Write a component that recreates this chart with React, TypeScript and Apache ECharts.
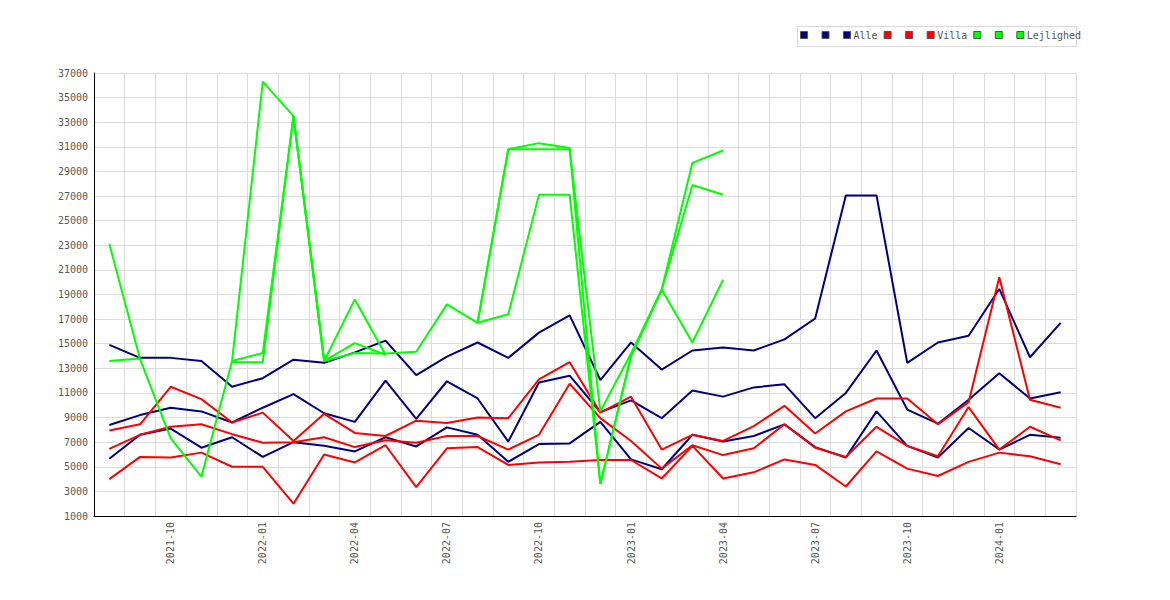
import React, { useEffect, useRef } from "react";
import * as echarts from "echarts";

const months = [
  "2021-08", "2021-09", "2021-10", "2021-11", "2021-12",
  "2022-01", "2022-02", "2022-03", "2022-04", "2022-05", "2022-06", "2022-07",
  "2022-08", "2022-09", "2022-10", "2022-11", "2022-12",
  "2023-01", "2023-02", "2023-03", "2023-04", "2023-05", "2023-06", "2023-07",
  "2023-08", "2023-09", "2023-10", "2023-11", "2023-12",
  "2024-01", "2024-02", "2024-03",
];

const alle1 = [14900, 13850, 13850, 13600, 11500, 12200, 13700, 13450, 14300, 15250, 12450, 13950, 15100, 13850, 15900, 17300, 12050, 15100, 12900, 14450, 14700, 14450, 15350, 17050, 27050, 27050, 13450, 15100, 15650, 19450, 13900, 16700];
const alle2 = [8400, 9200, 9800, 9500, 8600, 9800, 10900, 9350, 8650, 12000, 8900, 11950, 10550, 7050, 11850, 12400, 9450, 10400, 8950, 11200, 10700, 11450, 11700, 8950, 11000, 14450, 9650, 8500, 10450, 12600, 10550, 11050];
const alle3 = [5650, 7600, 8100, 6550, 7400, 5800, 7000, 6700, 6250, 7400, 6650, 8200, 7600, 5400, 6850, 6900, 8650, 5600, 4800, 7600, 7050, 7500, 8450, 6600, 5750, 9500, 6700, 5750, 8150, 6400, 7600, 7350];

const villa1 = [7950, 8450, 11500, 10500, 8600, 9400, 7100, 9300, 7750, 7500, 8750, 8550, 9000, 8950, 12100, 13500, 9400, 10700, 6400, 7600, 7100, 8300, 9950, 7700, 9500, 10550, 10550, 8450, 10250, 20400, 10450, 9800];
const villa2 = [6450, 7600, 8250, 8450, 7650, 6950, 7000, 7400, 6600, 7150, 6950, 7500, 7500, 6400, 7600, 11750, 8950, 7100, 4850, 6750, 5950, 6500, 8450, 6550, 5800, 8250, 6700, 5850, 9850, 6400, 8250, 7150];
const villa3 = [4000, 5800, 5750, 6150, 5000, 5000, 2000, 6000, 5350, 6750, 3350, 6500, 6600, 5150, 5350, 5400, 5550, 5550, 4050, 6700, 4050, 4550, 5600, 5150, 3400, 6250, 4850, 4250, 5400, 6150, 5850, 5200];

const lejl1 = [23100, 13750, 7300, 4200, 13600, 36300, 33500, 13600, 18600, 14100, null, null, 16700, 30800, 31300, 30900, 3600, 14000, 19400, 29700, 30700, null, null, null, null, null, null, null, null, null, null, null];
const lejl2 = [13600, 13800, null, null, 13500, 13500, 33500, 13600, 15050, 14100, null, null, 16700, 30800, 30800, 30800, 9500, 14200, 19400, 27900, 27100, null, null, null, null, null, null, null, null, null, null, null];
const lejl3 = [null, null, null, null, 13600, 14250, 33500, 13600, 14250, 14200, 14350, 18200, 16700, 17400, 27100, 27100, 3600, 14000, 19400, 15100, 20200, null, null, null, null, null, null, null, null, null, null, null];

const yMin = 1000;
const yMax = 37000;
const yStep = 2000;

const NAVY = "#000080";
const RED = "#ff0000";
const GREEN = "#00ff00";
const FONT = "DejaVu Sans Mono";

const seriesDefs: { name: string; color: string; data: (number | null)[] }[] = [
  { name: "Alle (1)", color: NAVY, data: alle1 },
  { name: "Alle (2)", color: NAVY, data: alle2 },
  { name: "Alle", color: NAVY, data: alle3 },
  { name: "Villa (1)", color: RED, data: villa1 },
  { name: "Villa (2)", color: RED, data: villa2 },
  { name: "Villa", color: RED, data: villa3 },
  { name: "Lejlighed (1)", color: GREEN, data: lejl1 },
  { name: "Lejlighed (2)", color: GREEN, data: lejl2 },
  { name: "Lejlighed", color: GREEN, data: lejl3 },
];

export default function App() {
  const ref = useRef<HTMLDivElement>(null);

  useEffect(() => {
    if (!ref.current) return;
    const chart = echarts.init(ref.current, undefined, { renderer: "svg" });
    chart.setOption({
      animation: false,
      backgroundColor: "#ffffff",
      grid: { left: 94, right: 94, top: 73, bottom: 84, containLabel: false },
      graphic: [
        {
          type: "rect",
          left: 797,
          top: 26,
          shape: { width: 279, height: 20 },
          style: { fill: "#ffffff", stroke: "#d9d9d9", lineWidth: 1 },
          z: 0,
        },
      ],
      legend: {
        left: 800,
        top: 30,
        padding: 0,
        itemGap: 6,
        itemWidth: 7,
        itemHeight: 7,
        icon: "rect",
        z: 5,
        data: seriesDefs.map((s) => {
          const blank = s.name.indexOf("(") >= 0;
          return {
            name: s.name,
            itemStyle: { color: s.color, borderColor: "#555555", borderWidth: 1 },
            textStyle: blank
              ? { fontFamily: FONT, fontSize: 10, color: "#555555", padding: [0, 2, 0, -3] }
              : { fontFamily: FONT, fontSize: 10, color: "#555555", padding: [0, 0, 0, -2] },
          };
        }),
        formatter: (name: string) => (name.indexOf("(") >= 0 ? " " : name),
        textStyle: { fontFamily: FONT, fontSize: 10, color: "#555555", padding: [0, 0, 0, -2] },
      },
      xAxis: {
        type: "category",
        data: months,
        boundaryGap: true,
        axisLine: { show: true, lineStyle: { color: "#000000", width: 1 } },
        axisTick: { show: false, interval: 0 },
        axisLabel: {
          interval: (i: number) => i % 3 === 2,
          rotate: 90,
          margin: 6,
          fontFamily: FONT,
          fontSize: 10,
          color: "#5a5a5a",
        },
        splitLine: { show: true, interval: 0, lineStyle: { color: "#dcdcdc", width: 1 } },
      },
      yAxis: {
        type: "value",
        min: yMin,
        max: yMax,
        interval: yStep,
        axisLine: { show: true, lineStyle: { color: "#000000", width: 1 } },
        axisTick: { show: false },
        axisLabel: {
          margin: 6,
          fontFamily: FONT,
          fontSize: 10,
          color: "#5a5a5a",
          formatter: (v: number) => String(v),
        },
        splitLine: { show: true, lineStyle: { color: "#dcdcdc", width: 1 } },
      },
      series: seriesDefs.map((s) => ({
        name: s.name,
        type: "line",
        data: s.data,
        showSymbol: false,
        symbol: "none",
        connectNulls: false,
        lineStyle: { color: s.color, width: 2 },
        itemStyle: { color: s.color },
        emphasis: { disabled: true },
      })),
    });
    return () => chart.dispose();
  }, []);

  return (
    <div
      ref={ref}
      style={{ position: "absolute", left: 0, top: 0, width: 1170, height: 600 }}
    />
  );
}
